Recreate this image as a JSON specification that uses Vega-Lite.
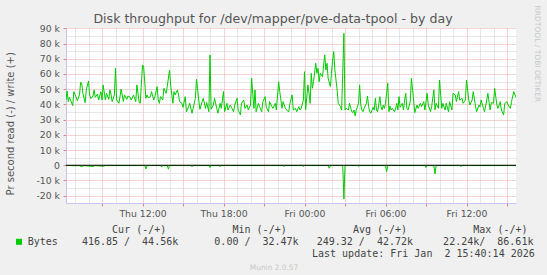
{
"$schema": "https://vega.github.io/schema/vega-lite/v6.json",
"width": 450, "height": 175,
"autosize": "none",
"padding": {"left": 66, "top": 28, "right": 31, "bottom": 72},
"background": "#f0f0f0",
"view": {"fill": "#ffffff", "stroke": null},
"title": {"text": "Disk throughput for /dev/mapper/pve-data-tpool - by day", "frame": "group", "anchor": "middle", "dx": -18, "dy": 35, "offset": 4.3, "baseline": "alphabetic", "font": "DejaVu Sans", "fontSize": 12.6, "fontWeight": "normal", "color": "#555555"},
"config": {
  "axis": {"labelFont": "DejaVu Sans", "labelFontSize": 9.3, "labelColor": "#555555", "titleFont": "DejaVu Sans", "titleFontWeight": "normal", "titleColor": "#555555", "gridDash": [1, 1], "gridOpacity": 1, "labelOverlap": false, "labelFlush": false, "labelBound": false}
},
"data": {"values": [
{"t":"2026-01-01T06:20","v":43000,"s":"w"},{"t":"2026-01-01T06:25","v":48800,"s":"w"},{"t":"2026-01-01T06:30","v":41800,"s":"w"},{"t":"2026-01-01T06:35","v":44700,"s":"w"},{"t":"2026-01-01T06:40","v":42900,"s":"w"},{"t":"2026-01-01T06:50","v":39200,"s":"w"},{"t":"2026-01-01T06:55","v":48400,"s":"w"},{"t":"2026-01-01T07:05","v":44700,"s":"w"},{"t":"2026-01-01T07:10","v":42500,"s":"w"},{"t":"2026-01-01T07:20","v":46200,"s":"w"},{"t":"2026-01-01T07:25","v":54500,"s":"w"},{"t":"2026-01-01T07:30","v":53900,"s":"w"},{"t":"2026-01-01T07:35","v":47300,"s":"w"},{"t":"2026-01-01T07:45","v":41200,"s":"w"},{"t":"2026-01-01T07:50","v":49500,"s":"w"},{"t":"2026-01-01T08:00","v":55400,"s":"w"},{"t":"2026-01-01T08:05","v":46200,"s":"w"},{"t":"2026-01-01T08:10","v":43800,"s":"w"},{"t":"2026-01-01T08:20","v":45500,"s":"w"},{"t":"2026-01-01T08:25","v":49500,"s":"w"},{"t":"2026-01-01T08:30","v":44700,"s":"w"},{"t":"2026-01-01T08:40","v":46800,"s":"w"},{"t":"2026-01-01T08:45","v":42900,"s":"w"},{"t":"2026-01-01T08:55","v":48400,"s":"w"},{"t":"2026-01-01T09:00","v":42900,"s":"w"},{"t":"2026-01-01T09:05","v":52800,"s":"w"},{"t":"2026-01-01T09:15","v":42900,"s":"w"},{"t":"2026-01-01T09:20","v":47300,"s":"w"},{"t":"2026-01-01T09:30","v":43300,"s":"w"},{"t":"2026-01-01T09:35","v":49500,"s":"w"},{"t":"2026-01-01T09:40","v":46800,"s":"w"},{"t":"2026-01-01T09:45","v":41800,"s":"w"},{"t":"2026-01-01T09:55","v":46200,"s":"w"},{"t":"2026-01-01T10:00","v":63700,"s":"w"},{"t":"2026-01-01T10:05","v":42900,"s":"w"},{"t":"2026-01-01T10:15","v":40700,"s":"w"},{"t":"2026-01-01T10:20","v":45100,"s":"w"},{"t":"2026-01-01T10:25","v":50100,"s":"w"},{"t":"2026-01-01T10:35","v":41800,"s":"w"},{"t":"2026-01-01T10:40","v":46200,"s":"w"},{"t":"2026-01-01T10:50","v":43300,"s":"w"},{"t":"2026-01-01T10:55","v":45500,"s":"w"},{"t":"2026-01-01T11:05","v":44700,"s":"w"},{"t":"2026-01-01T11:10","v":42900,"s":"w"},{"t":"2026-01-01T11:20","v":46200,"s":"w"},{"t":"2026-01-01T11:30","v":41800,"s":"w"},{"t":"2026-01-01T11:35","v":52800,"s":"w"},{"t":"2026-01-01T11:45","v":41400,"s":"w"},{"t":"2026-01-01T11:50","v":40700,"s":"w"},{"t":"2026-01-01T12:00","v":65900,"s":"w"},{"t":"2026-01-01T12:05","v":64800,"s":"w"},{"t":"2026-01-01T12:15","v":44000,"s":"w"},{"t":"2026-01-01T12:20","v":46200,"s":"w"},{"t":"2026-01-01T12:25","v":44400,"s":"w"},{"t":"2026-01-01T12:35","v":45100,"s":"w"},{"t":"2026-01-01T12:40","v":48400,"s":"w"},{"t":"2026-01-01T12:50","v":42900,"s":"w"},{"t":"2026-01-01T12:55","v":45100,"s":"w"},{"t":"2026-01-01T13:05","v":51700,"s":"w"},{"t":"2026-01-01T13:10","v":42900,"s":"w"},{"t":"2026-01-01T13:15","v":40700,"s":"w"},{"t":"2026-01-01T13:20","v":45100,"s":"w"},{"t":"2026-01-01T13:30","v":42900,"s":"w"},{"t":"2026-01-01T13:35","v":50600,"s":"w"},{"t":"2026-01-01T13:45","v":47300,"s":"w"},{"t":"2026-01-01T13:50","v":51700,"s":"w"},{"t":"2026-01-01T14:00","v":62600,"s":"w"},{"t":"2026-01-01T14:05","v":52800,"s":"w"},{"t":"2026-01-01T14:15","v":40700,"s":"w"},{"t":"2026-01-01T14:20","v":48400,"s":"w"},{"t":"2026-01-01T14:25","v":46200,"s":"w"},{"t":"2026-01-01T14:35","v":49500,"s":"w"},
{"t":"2026-01-01T14:40","v":46200,"s":"w"},{"t":"2026-01-01T14:45","v":41800,"s":"w"},{"t":"2026-01-01T14:55","v":40700,"s":"w"},{"t":"2026-01-01T15:00","v":38100,"s":"w"},{"t":"2026-01-01T15:10","v":45100,"s":"w"},{"t":"2026-01-01T15:15","v":35200,"s":"w"},{"t":"2026-01-01T15:25","v":38500,"s":"w"},{"t":"2026-01-01T15:30","v":40700,"s":"w"},{"t":"2026-01-01T15:40","v":34200,"s":"w"},{"t":"2026-01-01T15:45","v":37400,"s":"w"},{"t":"2026-01-01T15:55","v":44000,"s":"w"},{"t":"2026-01-01T16:00","v":56500,"s":"w"},{"t":"2026-01-01T16:10","v":42900,"s":"w"},{"t":"2026-01-01T16:15","v":36800,"s":"w"},{"t":"2026-01-01T16:25","v":41800,"s":"w"},{"t":"2026-01-01T16:30","v":44000,"s":"w"},{"t":"2026-01-01T16:40","v":37400,"s":"w"},{"t":"2026-01-01T16:45","v":41200,"s":"w"},{"t":"2026-01-01T16:55","v":35200,"s":"w"},{"t":"2026-01-01T17:00","v":72500,"s":"w"},{"t":"2026-01-01T17:05","v":36800,"s":"w"},{"t":"2026-01-01T17:15","v":39600,"s":"w"},{"t":"2026-01-01T17:20","v":44000,"s":"w"},{"t":"2026-01-01T17:30","v":37400,"s":"w"},{"t":"2026-01-01T17:35","v":34200,"s":"w"},{"t":"2026-01-01T17:45","v":40700,"s":"w"},{"t":"2026-01-01T17:50","v":37400,"s":"w"},{"t":"2026-01-01T18:00","v":48400,"s":"w"},{"t":"2026-01-01T18:05","v":35200,"s":"w"},{"t":"2026-01-01T18:15","v":40700,"s":"w"},{"t":"2026-01-01T18:20","v":36300,"s":"w"},{"t":"2026-01-01T18:30","v":39600,"s":"w"},{"t":"2026-01-01T18:35","v":38100,"s":"w"},{"t":"2026-01-01T18:45","v":35200,"s":"w"},{"t":"2026-01-01T18:50","v":39600,"s":"w"},{"t":"2026-01-01T19:00","v":44000,"s":"w"},{"t":"2026-01-01T19:05","v":36300,"s":"w"},{"t":"2026-01-01T19:15","v":33100,"s":"w"},{"t":"2026-01-01T19:20","v":40700,"s":"w"},{"t":"2026-01-01T19:30","v":42900,"s":"w"},{"t":"2026-01-01T19:35","v":37400,"s":"w"},{"t":"2026-01-01T19:45","v":39600,"s":"w"},{"t":"2026-01-01T19:50","v":36300,"s":"w"},{"t":"2026-01-01T20:00","v":39600,"s":"w"},{"t":"2026-01-01T20:05","v":57200,"s":"w"},{"t":"2026-01-01T20:15","v":37400,"s":"w"},{"t":"2026-01-01T20:20","v":49500,"s":"w"},{"t":"2026-01-01T20:25","v":35200,"s":"w"},{"t":"2026-01-01T20:35","v":40700,"s":"w"},{"t":"2026-01-01T20:40","v":38500,"s":"w"},{"t":"2026-01-01T20:50","v":35200,"s":"w"},{"t":"2026-01-01T20:55","v":41800,"s":"w"},{"t":"2026-01-01T21:05","v":45100,"s":"w"},{"t":"2026-01-01T21:10","v":38100,"s":"w"},{"t":"2026-01-01T21:20","v":35200,"s":"w"},{"t":"2026-01-01T21:25","v":41800,"s":"w"},{"t":"2026-01-01T21:35","v":38500,"s":"w"},{"t":"2026-01-01T21:40","v":37400,"s":"w"},{"t":"2026-01-01T21:50","v":40700,"s":"w"},{"t":"2026-01-01T21:55","v":36300,"s":"w"},{"t":"2026-01-01T22:05","v":54900,"s":"w"},{"t":"2026-01-01T22:10","v":48400,"s":"w"},{"t":"2026-01-01T22:20","v":37400,"s":"w"},{"t":"2026-01-01T22:25","v":41800,"s":"w"},{"t":"2026-01-01T22:35","v":37400,"s":"w"},{"t":"2026-01-01T22:40","v":36300,"s":"w"},{"t":"2026-01-01T22:50","v":35200,"s":"w"},{"t":"2026-01-01T22:55","v":40700,"s":"w"},{"t":"2026-01-01T23:05","v":46200,"s":"w"},
{"t":"2026-01-01T23:10","v":36300,"s":"w"},{"t":"2026-01-01T23:20","v":37400,"s":"w"},{"t":"2026-01-01T23:25","v":35200,"s":"w"},{"t":"2026-01-01T23:35","v":38500,"s":"w"},{"t":"2026-01-01T23:40","v":36300,"s":"w"},{"t":"2026-01-01T23:45","v":37400,"s":"w"},{"t":"2026-01-01T23:55","v":42900,"s":"w"},{"t":"2026-01-02T00:00","v":61500,"s":"w"},{"t":"2026-01-02T00:05","v":36300,"s":"w"},{"t":"2026-01-02T00:15","v":52800,"s":"w"},{"t":"2026-01-02T00:20","v":47300,"s":"w"},{"t":"2026-01-02T00:25","v":40700,"s":"w"},{"t":"2026-01-02T00:30","v":60400,"s":"w"},{"t":"2026-01-02T00:35","v":50600,"s":"w"},{"t":"2026-01-02T00:40","v":54900,"s":"w"},{"t":"2026-01-02T00:50","v":67000,"s":"w"},{"t":"2026-01-02T00:55","v":60400,"s":"w"},{"t":"2026-01-02T01:00","v":63700,"s":"w"},{"t":"2026-01-02T01:05","v":54900,"s":"w"},{"t":"2026-01-02T01:10","v":60400,"s":"w"},{"t":"2026-01-02T01:20","v":58200,"s":"w"},{"t":"2026-01-02T01:25","v":65900,"s":"w"},{"t":"2026-01-02T01:30","v":72500,"s":"w"},{"t":"2026-01-02T01:35","v":62600,"s":"w"},{"t":"2026-01-02T01:40","v":67000,"s":"w"},{"t":"2026-01-02T01:45","v":57200,"s":"w"},{"t":"2026-01-02T01:55","v":51700,"s":"w"},{"t":"2026-01-02T02:00","v":60400,"s":"w"},{"t":"2026-01-02T02:05","v":69200,"s":"w"},{"t":"2026-01-02T02:10","v":74700,"s":"w"},{"t":"2026-01-02T02:15","v":62600,"s":"w"},{"t":"2026-01-02T02:25","v":49500,"s":"w"},{"t":"2026-01-02T02:30","v":40700,"s":"w"},{"t":"2026-01-02T02:35","v":39600,"s":"w"},{"t":"2026-01-02T02:40","v":38500,"s":"w"},{"t":"2026-01-02T02:45","v":36300,"s":"w"},{"t":"2026-01-02T02:55","v":86610,"s":"w"},{"t":"2026-01-02T03:00","v":36300,"s":"w"},{"t":"2026-01-02T03:05","v":37400,"s":"w"},{"t":"2026-01-02T03:10","v":36800,"s":"w"},{"t":"2026-01-02T03:15","v":36300,"s":"w"},{"t":"2026-01-02T03:20","v":40700,"s":"w"},{"t":"2026-01-02T03:30","v":35200,"s":"w"},{"t":"2026-01-02T03:35","v":34600,"s":"w"},{"t":"2026-01-02T03:40","v":36300,"s":"w"},{"t":"2026-01-02T03:45","v":32470,"s":"w"},{"t":"2026-01-02T03:50","v":36300,"s":"w"},{"t":"2026-01-02T04:00","v":40700,"s":"w"},{"t":"2026-01-02T04:05","v":52800,"s":"w"},{"t":"2026-01-02T04:10","v":39600,"s":"w"},{"t":"2026-01-02T04:15","v":36300,"s":"w"},{"t":"2026-01-02T04:20","v":35200,"s":"w"},{"t":"2026-01-02T04:25","v":37400,"s":"w"},{"t":"2026-01-02T04:35","v":40700,"s":"w"},{"t":"2026-01-02T04:40","v":45500,"s":"w"},{"t":"2026-01-02T04:45","v":38500,"s":"w"},{"t":"2026-01-02T04:50","v":35200,"s":"w"},{"t":"2026-01-02T04:55","v":34200,"s":"w"},{"t":"2026-01-02T05:05","v":38100,"s":"w"},{"t":"2026-01-02T05:10","v":36300,"s":"w"},{"t":"2026-01-02T05:15","v":44000,"s":"w"},{"t":"2026-01-02T05:20","v":36300,"s":"w"},{"t":"2026-01-02T05:25","v":35200,"s":"w"},{"t":"2026-01-02T05:35","v":45100,"s":"w"},{"t":"2026-01-02T05:40","v":38500,"s":"w"},{"t":"2026-01-02T05:45","v":36300,"s":"w"},{"t":"2026-01-02T05:50","v":39600,"s":"w"},{"t":"2026-01-02T05:55","v":37400,"s":"w"},{"t":"2026-01-02T06:00","v":40700,"s":"w"},{"t":"2026-01-02T06:10","v":53900,"s":"w"},{"t":"2026-01-02T06:15","v":35200,"s":"w"},{"t":"2026-01-02T06:20","v":38900,"s":"w"},{"t":"2026-01-02T06:25","v":36300,"s":"w"},{"t":"2026-01-02T06:30","v":37400,"s":"w"},{"t":"2026-01-02T06:40","v":35200,"s":"w"},{"t":"2026-01-02T06:45","v":37400,"s":"w"},{"t":"2026-01-02T06:50","v":40700,"s":"w"},{"t":"2026-01-02T06:55","v":36300,"s":"w"},{"t":"2026-01-02T07:00","v":45100,"s":"w"},{"t":"2026-01-02T07:05","v":38100,"s":"w"},{"t":"2026-01-02T07:15","v":40700,"s":"w"},{"t":"2026-01-02T07:20","v":36300,"s":"w"},{"t":"2026-01-02T07:25","v":42900,"s":"w"},{"t":"2026-01-02T07:30","v":47300,"s":"w"},{"t":"2026-01-02T07:35","v":37400,"s":"w"},
{"t":"2026-01-02T07:40","v":36300,"s":"w"},{"t":"2026-01-02T07:50","v":41800,"s":"w"},{"t":"2026-01-02T07:55","v":57200,"s":"w"},{"t":"2026-01-02T08:05","v":42900,"s":"w"},{"t":"2026-01-02T08:10","v":34600,"s":"w"},{"t":"2026-01-02T08:20","v":39600,"s":"w"},{"t":"2026-01-02T08:25","v":37400,"s":"w"},{"t":"2026-01-02T08:35","v":40700,"s":"w"},{"t":"2026-01-02T08:40","v":38500,"s":"w"},{"t":"2026-01-02T08:50","v":41800,"s":"w"},{"t":"2026-01-02T08:55","v":36300,"s":"w"},{"t":"2026-01-02T09:05","v":47300,"s":"w"},{"t":"2026-01-02T09:10","v":39600,"s":"w"},{"t":"2026-01-02T09:20","v":35200,"s":"w"},{"t":"2026-01-02T09:25","v":38500,"s":"w"},{"t":"2026-01-02T09:35","v":49500,"s":"w"},{"t":"2026-01-02T09:40","v":36300,"s":"w"},{"t":"2026-01-02T09:45","v":40700,"s":"w"},{"t":"2026-01-02T09:55","v":37400,"s":"w"},{"t":"2026-01-02T10:00","v":56000,"s":"w"},{"t":"2026-01-02T10:10","v":37400,"s":"w"},{"t":"2026-01-02T10:15","v":40700,"s":"w"},{"t":"2026-01-02T10:25","v":36300,"s":"w"},{"t":"2026-01-02T10:30","v":40700,"s":"w"},{"t":"2026-01-02T10:40","v":35200,"s":"w"},{"t":"2026-01-02T10:45","v":41800,"s":"w"},{"t":"2026-01-02T10:55","v":36300,"s":"w"},{"t":"2026-01-02T11:00","v":47300,"s":"w"},{"t":"2026-01-02T11:10","v":46200,"s":"w"},{"t":"2026-01-02T11:15","v":41800,"s":"w"},{"t":"2026-01-02T11:25","v":48400,"s":"w"},{"t":"2026-01-02T11:30","v":42900,"s":"w"},{"t":"2026-01-02T11:40","v":44000,"s":"w"},{"t":"2026-01-02T11:45","v":40700,"s":"w"},{"t":"2026-01-02T11:55","v":42900,"s":"w"},{"t":"2026-01-02T12:00","v":56000,"s":"w"},{"t":"2026-01-02T12:10","v":42900,"s":"w"},{"t":"2026-01-02T12:15","v":39600,"s":"w"},{"t":"2026-01-02T12:25","v":42900,"s":"w"},{"t":"2026-01-02T12:30","v":48400,"s":"w"},{"t":"2026-01-02T12:40","v":38900,"s":"w"},{"t":"2026-01-02T12:45","v":35200,"s":"w"},{"t":"2026-01-02T12:55","v":39600,"s":"w"},{"t":"2026-01-02T13:00","v":38500,"s":"w"},{"t":"2026-01-02T13:05","v":42900,"s":"w"},{"t":"2026-01-02T13:15","v":37400,"s":"w"},{"t":"2026-01-02T13:20","v":35200,"s":"w"},{"t":"2026-01-02T13:30","v":42900,"s":"w"},{"t":"2026-01-02T13:35","v":47300,"s":"w"},{"t":"2026-01-02T13:45","v":36300,"s":"w"},{"t":"2026-01-02T13:50","v":41200,"s":"w"},{"t":"2026-01-02T14:00","v":40700,"s":"w"},{"t":"2026-01-02T14:05","v":50600,"s":"w"},{"t":"2026-01-02T14:15","v":39600,"s":"w"},{"t":"2026-01-02T14:20","v":37400,"s":"w"},{"t":"2026-01-02T14:30","v":41800,"s":"w"},{"t":"2026-01-02T14:35","v":36300,"s":"w"},{"t":"2026-01-02T14:45","v":33100,"s":"w"},{"t":"2026-01-02T14:50","v":40700,"s":"w"},{"t":"2026-01-02T15:00","v":41800,"s":"w"},{"t":"2026-01-02T15:05","v":39600,"s":"w"},{"t":"2026-01-02T15:15","v":37400,"s":"w"},{"t":"2026-01-02T15:20","v":41800,"s":"w"},{"t":"2026-01-02T15:30","v":48400,"s":"w"},{"t":"2026-01-02T15:40","v":44560,"s":"w"},
{"t":"2026-01-01T06:20","v":-200,"s":"r"},{"t":"2026-01-01T07:20","v":-300,"s":"r"},{"t":"2026-01-01T07:30","v":-900,"s":"r"},{"t":"2026-01-01T07:40","v":-200,"s":"r"},{"t":"2026-01-01T08:20","v":-800,"s":"r"},{"t":"2026-01-01T08:30","v":-200,"s":"r"},{"t":"2026-01-01T09:05","v":-700,"s":"r"},{"t":"2026-01-01T09:15","v":-200,"s":"r"},{"t":"2026-01-01T12:10","v":-200,"s":"r"},{"t":"2026-01-01T12:15","v":-2400,"s":"r"},{"t":"2026-01-01T12:20","v":-200,"s":"r"},{"t":"2026-01-01T13:20","v":-200,"s":"r"},{"t":"2026-01-01T13:25","v":-1200,"s":"r"},{"t":"2026-01-01T13:30","v":-200,"s":"r"},{"t":"2026-01-01T13:50","v":-200,"s":"r"},{"t":"2026-01-01T13:55","v":-2600,"s":"r"},{"t":"2026-01-01T14:00","v":-200,"s":"r"},{"t":"2026-01-01T15:35","v":-200,"s":"r"},{"t":"2026-01-01T15:40","v":-900,"s":"r"},{"t":"2026-01-01T15:45","v":-200,"s":"r"},{"t":"2026-01-01T16:55","v":-200,"s":"r"},{"t":"2026-01-01T17:00","v":-1500,"s":"r"},{"t":"2026-01-01T17:05","v":-200,"s":"r"},{"t":"2026-01-01T17:40","v":-200,"s":"r"},{"t":"2026-01-01T17:45","v":-900,"s":"r"},{"t":"2026-01-01T17:50","v":-200,"s":"r"},{"t":"2026-01-01T22:25","v":-200,"s":"r"},{"t":"2026-01-01T22:30","v":-800,"s":"r"},{"t":"2026-01-01T22:35","v":-200,"s":"r"},{"t":"2026-01-01T23:50","v":-200,"s":"r"},{"t":"2026-01-01T23:55","v":-800,"s":"r"},{"t":"2026-01-02T00:00","v":-200,"s":"r"},{"t":"2026-01-02T01:45","v":-200,"s":"r"},{"t":"2026-01-02T01:50","v":-2000,"s":"r"},{"t":"2026-01-02T01:55","v":-200,"s":"r"},{"t":"2026-01-02T02:50","v":-200,"s":"r"},{"t":"2026-01-02T02:55","v":-22240,"s":"r"},{"t":"2026-01-02T03:00","v":-200,"s":"r"},{"t":"2026-01-02T03:55","v":-200,"s":"r"},{"t":"2026-01-02T04:00","v":-900,"s":"r"},{"t":"2026-01-02T04:05","v":-200,"s":"r"},{"t":"2026-01-02T06:00","v":-200,"s":"r"},{"t":"2026-01-02T06:05","v":-4200,"s":"r"},{"t":"2026-01-02T06:10","v":-200,"s":"r"},{"t":"2026-01-02T08:55","v":-200,"s":"r"},{"t":"2026-01-02T09:00","v":-1500,"s":"r"},{"t":"2026-01-02T09:05","v":-200,"s":"r"},{"t":"2026-01-02T09:35","v":-200,"s":"r"},{"t":"2026-01-02T09:40","v":-5700,"s":"r"},{"t":"2026-01-02T09:45","v":-200,"s":"r"},{"t":"2026-01-02T11:30","v":-200,"s":"r"},{"t":"2026-01-02T11:35","v":-800,"s":"r"},{"t":"2026-01-02T11:40","v":-200,"s":"r"},{"t":"2026-01-02T15:35","v":-200,"s":"r"},{"t":"2026-01-02T15:40","v":-417,"s":"r"}
]},
"layer": [
  {
    "transform": [{"filter": "datum.s == 'w'"}],
    "mark": {"type": "line", "strokeWidth": 1, "clip": true},
    "encoding": {
      "x": {"field": "t", "type": "temporal",
        "scale": {"domain": [{"year": 2026, "month": 1, "date": 1, "hours": 6, "minutes": 20}, {"year": 2026, "month": 1, "date": 2, "hours": 15, "minutes": 40}]},
        "axis": {"orient": "bottom",
          "values": [{"year": 2026, "month": 1, "date": 1, "hours": 9}, {"year": 2026, "month": 1, "date": 1, "hours": 12}, {"year": 2026, "month": 1, "date": 1, "hours": 15}, {"year": 2026, "month": 1, "date": 1, "hours": 18}, {"year": 2026, "month": 1, "date": 1, "hours": 21}, {"year": 2026, "month": 1, "date": 2, "hours": 0}, {"year": 2026, "month": 1, "date": 2, "hours": 3}, {"year": 2026, "month": 1, "date": 2, "hours": 6}, {"year": 2026, "month": 1, "date": 2, "hours": 9}, {"year": 2026, "month": 1, "date": 2, "hours": 12}, {"year": 2026, "month": 1, "date": 2, "hours": 15}],
          "labelExpr": "hours(datum.value) % 6 == 0 ? timeFormat(datum.value, '%a %H:%M') : ''",
          "grid": true, "gridColor": "#eaa6a6", "gridDash": [1, 1],
          "ticks": true, "tickColor": "#e08080", "tickSize": 3,
          "domainColor": "#c4c4ee", "domainWidth": 1,
          "labelBaseline": "alphabetic", "labelPadding": 10.6, "labelAngle": 0,
          "title": "Cur\u00a0(-/+)\u00a0\u00a0\u00a0\u00a0\u00a0\u00a0\u00a0\u00a0\u00a0\u00a0\u00a0Min\u00a0(-/+)\u00a0\u00a0\u00a0\u00a0\u00a0\u00a0\u00a0\u00a0\u00a0\u00a0\u00a0Avg\u00a0(-/+)\u00a0\u00a0\u00a0\u00a0\u00a0\u00a0\u00a0\u00a0\u00a0\u00a0\u00a0Max\u00a0(-/+)",
          "titleFont": "DejaVu Sans Mono", "titleFontSize": 10, "titleColor": "#444444",
          "titleX": 45.6, "titleY": 29.1, "titleAlign": "left", "titleAnchor": null, "titleBaseline": "alphabetic", "titleAngle": 0, "titleLimit": 600}},
      "y": {"field": "v", "type": "quantitative",
        "scale": {"domain": [-24800, 90200], "nice": false, "zero": false},
        "axis": {"orient": "left",
          "values": [-20000, -10000, 0, 10000, 20000, 30000, 40000, 50000, 60000, 70000, 80000, 90000],
          "labelExpr": "datum.value == 0 ? '0' : (datum.value / 1000) + ' k'",
          "grid": true, "gridColor": "#eaa6a6", "gridDash": [1, 1],
          "tickColor": "#e08080", "tickSize": 3, "labelPadding": 3.5,
          "domainColor": "#c4c4ee",
          "title": "Pr second read (-) / write (+)", "titleFontSize": 10,
          "titleAngle": -90, "titleX": -55.5, "titleY": 95.3, "titleAlign": "center", "titleAnchor": null, "titleBaseline": "middle"}},
      "color": {"datum": "Bytes", "type": "nominal", "scale": {"range": ["#00cc00"]},
        "legend": {"orient": "none", "legendX": -52, "legendY": 208.8, "title": "Munin 2.0.57", "titleOrient": "bottom", "titleAnchor": "middle", "titleAlign": "center", "titlePadding": 17, "titleFont": "DejaVu Sans", "titleFontSize": 7.4, "titleFontWeight": "normal", "titleColor": "#c8c8c8",
          "symbolType": "square", "symbolSize": 36, "symbolFillColor": "#00cc00", "symbolStrokeColor": "#00cc00", "symbolStrokeWidth": 0,
          "labelExpr": "'Bytes\u00a0\u00a0\u00a0\u00a0416.85\u00a0/\u00a0\u00a044.56k\u00a0\u00a0\u00a0\u00a0\u00a0\u00a00.00\u00a0/\u00a0\u00a032.47k\u00a0\u00a0\u00a0249.32\u00a0/\u00a0\u00a042.72k\u00a0\u00a0\u00a0\u00a0\u00a022.24k/\u00a0\u00a086.61k'",
          "labelFont": "DejaVu Sans Mono", "labelFontSize": 10, "labelColor": "#444444", "labelOffset": 3.7, "labelLimit": 700, "padding": 0}}
    }
  },
  {
    "transform": [{"filter": "datum.s == 'r'"}],
    "mark": {"type": "line", "strokeWidth": 1, "clip": true},
    "encoding": {
      "x": {"field": "t", "type": "temporal",
        "scale": {"domain": [{"year": 2026, "month": 1, "date": 1, "hours": 6, "minutes": 20}, {"year": 2026, "month": 1, "date": 2, "hours": 15, "minutes": 40}]},
        "axis": {"orient": "top",
          "values": [{"year": 2026, "month": 1, "date": 1, "hours": 7}, {"year": 2026, "month": 1, "date": 1, "hours": 8}, {"year": 2026, "month": 1, "date": 1, "hours": 10}, {"year": 2026, "month": 1, "date": 1, "hours": 11}, {"year": 2026, "month": 1, "date": 1, "hours": 13}, {"year": 2026, "month": 1, "date": 1, "hours": 14}, {"year": 2026, "month": 1, "date": 1, "hours": 16}, {"year": 2026, "month": 1, "date": 1, "hours": 17}, {"year": 2026, "month": 1, "date": 1, "hours": 19}, {"year": 2026, "month": 1, "date": 1, "hours": 20}, {"year": 2026, "month": 1, "date": 1, "hours": 22}, {"year": 2026, "month": 1, "date": 1, "hours": 23}, {"year": 2026, "month": 1, "date": 2, "hours": 1}, {"year": 2026, "month": 1, "date": 2, "hours": 2}, {"year": 2026, "month": 1, "date": 2, "hours": 4}, {"year": 2026, "month": 1, "date": 2, "hours": 5}, {"year": 2026, "month": 1, "date": 2, "hours": 7}, {"year": 2026, "month": 1, "date": 2, "hours": 8}, {"year": 2026, "month": 1, "date": 2, "hours": 10}, {"year": 2026, "month": 1, "date": 2, "hours": 11}, {"year": 2026, "month": 1, "date": 2, "hours": 13}, {"year": 2026, "month": 1, "date": 2, "hours": 14}],
          "grid": true, "gridColor": "#cfcfcf", "gridDash": [1, 1],
          "labels": false, "ticks": false, "domain": false,
          "title": "Last update: Fri Jan\u00a0\u00a02 15:40:14 2026", "titleFont": "DejaVu Sans Mono", "titleFontSize": 10, "titleColor": "#444444",
          "titleX": 245.5, "titleY": 228.9, "titleAlign": "left", "titleAnchor": null, "titleBaseline": "alphabetic", "titleAngle": 0, "titleLimit": 600}},
      "y": {"field": "v", "type": "quantitative",
        "scale": {"domain": [-24800, 90200], "nice": false, "zero": false},
        "axis": {"orient": "right",
          "values": [-15000, -5000, 5000, 15000, 25000, 35000, 45000, 55000, 65000, 75000, 85000],
          "grid": true, "gridColor": "#cfcfcf", "gridDash": [1, 1],
          "labels": false, "ticks": false, "domain": false,
          "title": "RRDTOOL / TOBI OETIKER", "titleFontSize": 7.5, "titleColor": "#c8c8c8",
          "titleAngle": 90, "titleX": 20.7, "titleY": 25.4, "titleAlign": "center", "titleAnchor": null, "titleBaseline": "middle"}},
      "color": {"datum": "Bytes", "type": "nominal"}
    }
  },
  {
    "data": {"values": [{"zero": 0}]},
    "mark": {"type": "rule", "color": "#000000", "strokeWidth": 1},
    "encoding": {
      "y": {"datum": 0, "type": "quantitative", "scale": {"domain": [-24800, 90200], "nice": false, "zero": false}, "axis": null}
    }
  }
],
"resolve": {"scale": {"x": "independent", "y": "independent"}}
}
